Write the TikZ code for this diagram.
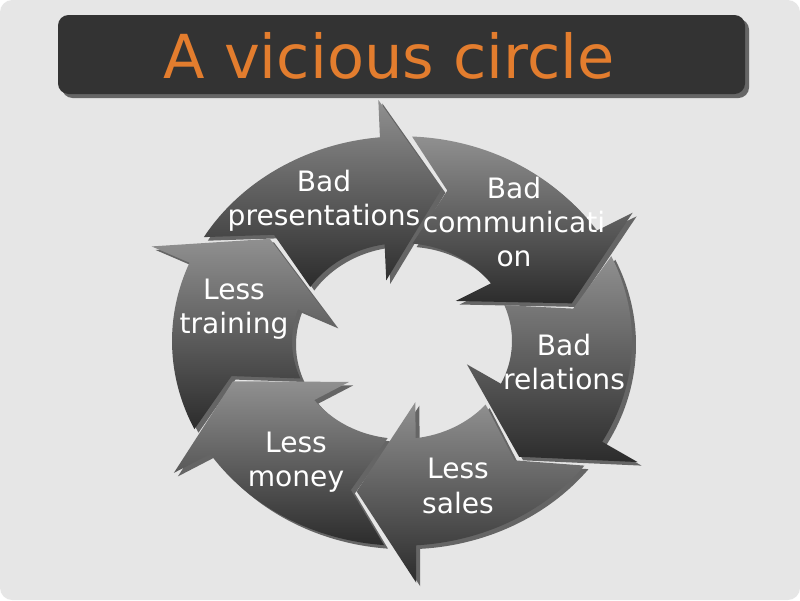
\documentclass[tikz,border=0pt]{standalone}
\usepackage{fontspec}
\setmainfont{DejaVu Sans}
\definecolor{slideBg}{HTML}{E6E6E6}
\definecolor{barFill}{HTML}{333333}
\definecolor{barShadow}{HTML}{666666}
\definecolor{titleOrange}{HTML}{E37D2E}
\definecolor{arrowTop}{HTML}{909090}
\definecolor{arrowBot}{HTML}{2C2C2C}
\definecolor{arrowShade}{HTML}{656565}

\begin{document}
\begin{tikzpicture}[x=0.02cm,y=0.02cm,arrowFace/.style={top color=arrowTop, bottom color=arrowBot},arrowDrop/.style={fill=arrowShade},cycleText/.style={text=white, align=center, font=\fontsize{16}{19.6}\selectfont}]
\newcommand{\cycleArrow}[2]{({100.5-(#2)}:230) arc[start angle={100.5-(#2)}, end angle={108.5-(#1)}, radius=4.6cm] -- ({108-(#1)}:272) -- ({90-(#1)}:175) -- ({116-(#1)}:70) -- ({112.1-(#1)}:110) arc[start angle={112.1-(#1)}, end angle={97.5-(#2)}, radius=2.2cm] -- ({88-(#2)}:175) -- cycle}
% slide and title bar
\fill[white] (0,0) rectangle (800,-600);
\fill[slideBg, rounded corners=7pt] (0,0) rectangle (800,-600);
\fill[barShadow, rounded corners=6pt] (62,-19) rectangle (749,-98);
\fill[barFill, rounded corners=6pt] (58,-15) rectangle (745,-94);
\node[anchor=base, text=titleOrange, font=\fontsize{34.5}{40}\selectfont] (title) at (389,-78) {A vicious circle};
% the ring of arrows, tip angle / previous tip angle
\begin{scope}[shift={(402,-341)}, yscale=0.89]
\foreach \t/\p in {13/-49, 76/13, 138/76, 195/138, 255/195, 311/255}\fill[arrowDrop, shift={(4,-4)}] \cycleArrow{\t}{\p};
\foreach \t/\p in {13/-49, 76/13, 138/76, 195/138, 255/195, 311/255}\shade[arrowFace] \cycleArrow{\t}{\p};
\end{scope}
\node[cycleText] (presentations) at (324,-201) {Bad\\presentations};
\node[cycleText] (communication) at (514,-222) {Bad\\communicati\\on};
\node[cycleText] (relations) at (564,-362) {Bad\\relations};
\node[cycleText] (sales) at (458,-486) {Less\\sales};
\node[cycleText] (money) at (296,-462) {Less\\money};
\node[cycleText] (training) at (234,-309) {Less\\training};
\end{tikzpicture}
\end{document}
